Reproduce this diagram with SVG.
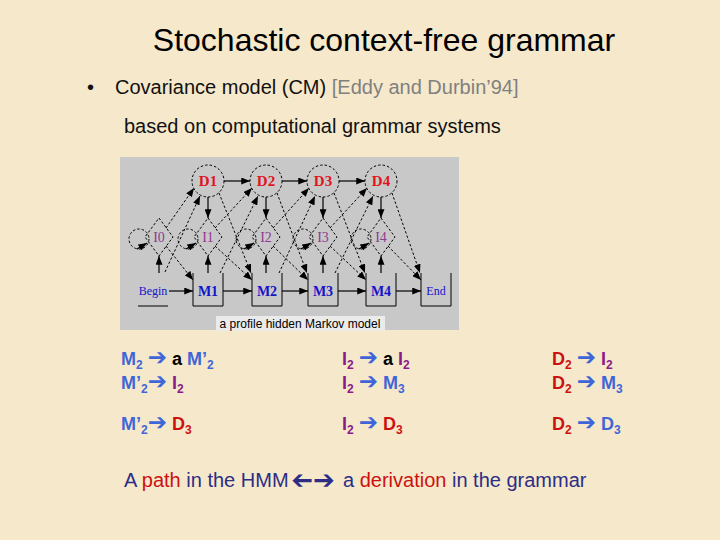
<svg xmlns="http://www.w3.org/2000/svg" width="720" height="540" viewBox="0 0 720 540">
<style>
.sans{font-family:"Liberation Sans",Arial,sans-serif}
.serif{font-family:"Liberation Serif","Times New Roman",serif}
.sym{font-family:"DejaVu Sans",sans-serif;font-size:23px}
.solid{fill:none;stroke:#000;stroke-width:1.2;marker-end:url(#ah)}
.dash{fill:none;stroke:#000;stroke-width:1;stroke-dasharray:2.5,2;marker-end:url(#ah)}
.dnode{fill:none;stroke:#000;stroke-width:1;stroke-dasharray:2.5,2}
.box{fill:none;stroke:#000;stroke-width:1}
.dl{fill:#e0141e;font-size:15px;font-weight:bold}
.il{fill:#8e3a8e;font-size:14px}
.ml{fill:#1414c8;font-size:14px;font-weight:bold}
.bl{fill:#1414c8;font-size:12px}
.rule{font-size:18px;font-weight:bold}
.cb{fill:#3f66d8}.cp{fill:#8a1a8a}.cr{fill:#cc1111}.ck{fill:#000}
.nv{fill:#2d2d86}.rd{fill:#cc1111}
</style>
<defs>
<marker id="ah" viewBox="0 0 10 8" refX="10" refY="4" markerWidth="9" markerHeight="7" markerUnits="userSpaceOnUse" orient="auto">
<path d="M0,0 L10,4 L0,8 z" fill="#000"/>
</marker>
</defs>
<rect width="720" height="540" fill="#f6e8cb"/>

<text class="sans" x="384" y="51" font-size="32" text-anchor="middle" fill="#000">Stochastic context-free grammar</text>
<text class="sans" x="87" y="94" font-size="20" fill="#111">•</text>
<text class="sans" x="115" y="94" font-size="20" fill="#111">Covariance model (CM) <tspan fill="#808080">[Eddy and Durbin’94]</tspan></text>
<text class="sans" x="124" y="133" font-size="20" fill="#111">based on computational grammar systems</text>

<!-- HMM figure -->
<rect x="120" y="157" width="339" height="173" fill="#c8c8c8"/>
<rect x="216" y="316" width="169" height="15" fill="#ebebeb"/>
<text class="sans" x="300" y="328" font-size="12" text-anchor="middle" fill="#000">a profile hidden Markov model</text>

<g id="connectors">
<path class="solid" d="M224,181 H250"/>
<path class="solid" d="M282,181 H307"/>
<path class="solid" d="M339,181 H365"/>
<path class="solid" d="M169,291 H193"/>
<path class="solid" d="M223,291 H252"/>
<path class="solid" d="M282,291 H308"/>
<path class="solid" d="M338,291 H366"/>
<path class="solid" d="M396,291 H421"/>
<path class="solid" d="M208,197 V218"/>
<path class="solid" d="M266,197 V218"/>
<path class="solid" d="M323,197 V218"/>
<path class="solid" d="M381,197 V218"/>
<path class="solid" d="M159,273 V256"/>
<path class="solid" d="M208,273 V256"/>
<path class="solid" d="M266,273 V256"/>
<path class="solid" d="M323,273 V256"/>
<path class="solid" d="M381,273 V256"/>
<path class="dash" d="M165,272 L200,196"/>
<path class="dash" d="M220,273 L258,196"/>
<path class="dash" d="M279,273 L315,196"/>
<path class="dash" d="M335,273 L373,196"/>
<path class="dash" d="M166,228 L194,188"/>
<path class="dash" d="M215,228 L252,188"/>
<path class="dash" d="M273,228 L309,188"/>
<path class="dash" d="M330,228 L367,188"/>
<path class="dash" d="M166,246 L193,280"/>
<path class="dash" d="M215,246 L252,280"/>
<path class="dash" d="M273,246 L308,280"/>
<path class="dash" d="M330,246 L366,280"/>
<path class="dash" d="M388,246 L421,280"/>
<path class="dash" d="M219,193 L251,273"/>
<path class="dash" d="M277,193 L307,273"/>
<path class="dash" d="M334,193 L365,273"/>
<path class="dash" d="M392,193 L420,273"/>
<circle class="dnode" cx="139" cy="239" r="10"/>
<path class="solid" d="M137,249 L147,243"/>
<circle class="dnode" cx="188" cy="239" r="10"/>
<path class="solid" d="M186,249 L196,243"/>
<circle class="dnode" cx="246" cy="239" r="10"/>
<path class="solid" d="M244,249 L254,243"/>
<circle class="dnode" cx="303" cy="239" r="10"/>
<path class="solid" d="M301,249 L311,243"/>
<circle class="dnode" cx="361" cy="239" r="10"/>
<path class="solid" d="M359,249 L369,243"/>
</g>

<g id="D1"><circle class="dnode" cx="208" cy="181" r="16"/><text class="serif dl" x="208" y="186" text-anchor="middle">D1</text></g>
<g id="D2"><circle class="dnode" cx="266" cy="181" r="16"/><text class="serif dl" x="266" y="186" text-anchor="middle">D2</text></g>
<g id="D3"><circle class="dnode" cx="323" cy="181" r="16"/><text class="serif dl" x="323" y="186" text-anchor="middle">D3</text></g>
<g id="D4"><circle class="dnode" cx="381" cy="181" r="16"/><text class="serif dl" x="381" y="186" text-anchor="middle">D4</text></g>

<g id="I0"><path class="dnode" d="M159,218 L173,237 L159,256 L145,237 Z"/><text class="serif il" x="159" y="242" text-anchor="middle">I0</text></g>
<g id="I1"><path class="dnode" d="M208,218 L222,237 L208,256 L194,237 Z"/><text class="serif il" x="208" y="242" text-anchor="middle">I1</text></g>
<g id="I2"><path class="dnode" d="M266,218 L280,237 L266,256 L252,237 Z"/><text class="serif il" x="266" y="242" text-anchor="middle">I2</text></g>
<g id="I3"><path class="dnode" d="M323,218 L337,237 L323,256 L309,237 Z"/><text class="serif il" x="323" y="242" text-anchor="middle">I3</text></g>
<g id="I4"><path class="dnode" d="M381,218 L395,237 L381,256 L367,237 Z"/><text class="serif il" x="381" y="242" text-anchor="middle">I4</text></g>

<g id="Begin"><path class="box" d="M138,306 H168"/><text class="serif bl" x="153" y="295" text-anchor="middle">Begin</text></g>
<g id="M1"><path class="box" d="M193,273 V306 H223 V273"/><text class="serif ml" x="208" y="296" text-anchor="middle">M1</text></g>
<g id="M2"><path class="box" d="M252,273 V306 H282 V273"/><text class="serif ml" x="267" y="296" text-anchor="middle">M2</text></g>
<g id="M3"><path class="box" d="M308,273 V306 H338 V273"/><text class="serif ml" x="323" y="296" text-anchor="middle">M3</text></g>
<g id="M4"><path class="box" d="M366,273 V306 H396 V273"/><text class="serif ml" x="381" y="296" text-anchor="middle">M4</text></g>
<g id="End"><path class="box" d="M421,273 V306 H451 V273"/><text class="serif bl" x="436" y="295" text-anchor="middle">End</text></g>

<!-- grammar rules -->
<g class="sans rule">
<text x="121" y="365"><tspan class="cb">M</tspan><tspan class="cb" font-size="12" dy="4">2</tspan><tspan class="cb" dy="-4"> </tspan><tspan class="cb sym">➔</tspan><tspan class="ck"> a </tspan><tspan class="cb">M’</tspan><tspan class="cb" font-size="12" dy="4">2</tspan></text>
<text x="121" y="389"><tspan class="cb">M’</tspan><tspan class="cb" font-size="12" dy="4">2</tspan><tspan class="cb sym" dy="-4">➔</tspan><tspan class="cp"> I</tspan><tspan class="cp" font-size="12" dy="4">2</tspan></text>
<text x="121" y="430"><tspan class="cb">M’</tspan><tspan class="cb" font-size="12" dy="4">2</tspan><tspan class="cb sym" dy="-4">➔</tspan><tspan class="cr"> D</tspan><tspan class="cr" font-size="12" dy="4">3</tspan></text>

<text x="342" y="365"><tspan class="cp">I</tspan><tspan class="cp" font-size="12" dy="4">2</tspan><tspan class="cp" dy="-4"> </tspan><tspan class="cb sym">➔</tspan><tspan class="ck"> a </tspan><tspan class="cp">I</tspan><tspan class="cp" font-size="12" dy="4">2</tspan></text>
<text x="342" y="389"><tspan class="cp">I</tspan><tspan class="cp" font-size="12" dy="4">2</tspan><tspan class="cp" dy="-4"> </tspan><tspan class="cb sym">➔</tspan><tspan class="cb"> M</tspan><tspan class="cb" font-size="12" dy="4">3</tspan></text>
<text x="342" y="430"><tspan class="cp">I</tspan><tspan class="cp" font-size="12" dy="4">2</tspan><tspan class="cp" dy="-4"> </tspan><tspan class="cb sym">➔</tspan><tspan class="cr"> D</tspan><tspan class="cr" font-size="12" dy="4">3</tspan></text>

<text x="552" y="365"><tspan class="cr">D</tspan><tspan class="cr" font-size="12" dy="4">2</tspan><tspan class="cr" dy="-4"> </tspan><tspan class="cb sym">➔</tspan><tspan class="cp"> I</tspan><tspan class="cp" font-size="12" dy="4">2</tspan></text>
<text x="552" y="389"><tspan class="cr">D</tspan><tspan class="cr" font-size="12" dy="4">2</tspan><tspan class="cr" dy="-4"> </tspan><tspan class="cb sym">➔</tspan><tspan class="cb"> M</tspan><tspan class="cb" font-size="12" dy="4">3</tspan></text>
<text x="552" y="430"><tspan class="cr">D</tspan><tspan class="cr" font-size="12" dy="4">2</tspan><tspan class="cr" dy="-4"> </tspan><tspan class="cb sym">➔</tspan><tspan class="cb"> D</tspan><tspan class="cb" font-size="12" dy="4">3</tspan></text>
</g>

<!-- bottom line -->
<g class="sans" font-size="20">
<text x="124" y="487"><tspan class="nv">A </tspan><tspan class="rd">path</tspan><tspan class="nv"> in the HMM</tspan></text>
<text class="nv" font-family="DejaVu Sans,sans-serif" font-size="26" font-weight="bold" transform="translate(313,489) scale(-1,1)" x="0" y="0">➔</text>
<text class="nv" font-family="DejaVu Sans,sans-serif" font-size="26" font-weight="bold" x="313" y="489">➔</text>
<text x="343" y="487"><tspan class="nv">a </tspan><tspan class="rd">derivation</tspan><tspan class="nv"> in the grammar</tspan></text>
</g>
</svg>
